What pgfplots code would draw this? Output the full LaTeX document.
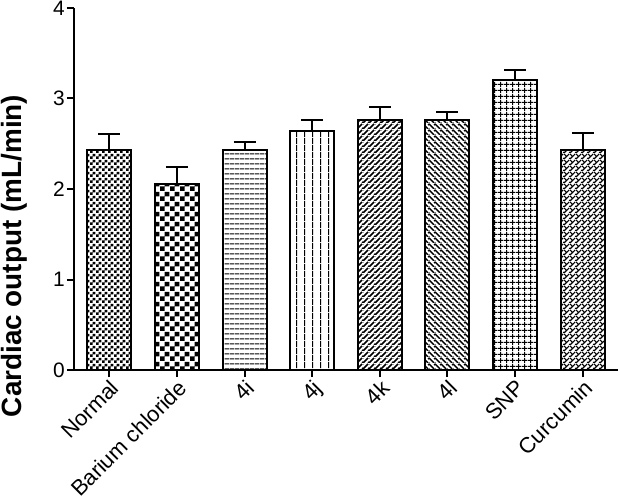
\documentclass[border=0pt]{standalone}
\usepackage{pgfplots}
\pgfplotsset{compat=1.18}
\usepackage{fontspec}
\setmainfont{Liberation Sans}
\usetikzlibrary{patterns}

% fine checker (Normal)
\pgfdeclarepatternformonly{finechecker}{\pgfqpoint{0pt}{0pt}}{\pgfqpoint{6bp}{6bp}}{\pgfqpoint{6bp}{6bp}}{%
  \pgfpathrectangle{\pgfqpoint{0pt}{0pt}}{\pgfqpoint{3bp}{3bp}}%
  \pgfpathrectangle{\pgfqpoint{3bp}{3bp}}{\pgfqpoint{3bp}{3bp}}%
  \pgfusepath{fill}}
% coarse checker (Barium chloride)
\pgfdeclarepatternformonly{checker}{\pgfqpoint{0pt}{0pt}}{\pgfqpoint{10bp}{10bp}}{\pgfqpoint{10bp}{10bp}}{%
  \pgfpathrectangle{\pgfqpoint{0pt}{0pt}}{\pgfqpoint{5bp}{5bp}}%
  \pgfpathrectangle{\pgfqpoint{5bp}{5bp}}{\pgfqpoint{5bp}{5bp}}%
  \pgfusepath{fill}}
% horizontal lines (4i)
\pgfdeclarepatternformonly{hlines}{\pgfqpoint{0pt}{0pt}}{\pgfqpoint{5bp}{5bp}}{\pgfqpoint{5bp}{5bp}}{%
  \pgfsetlinewidth{1.1bp}%
  \pgfpathmoveto{\pgfqpoint{0pt}{2.5bp}}\pgfpathlineto{\pgfqpoint{5bp}{2.5bp}}%
  \pgfusepath{stroke}}
% vertical lines (4j)
\pgfdeclarepatternformonly{vlines}{\pgfqpoint{0pt}{0pt}}{\pgfqpoint{7.5bp}{7bp}}{\pgfqpoint{7.5bp}{7bp}}{%
  \pgfsetlinewidth{1.1bp}%
  \pgfpathmoveto{\pgfqpoint{3.75bp}{0pt}}\pgfpathlineto{\pgfqpoint{3.75bp}{7bp}}%
  \pgfusepath{stroke}}
% NE lines (4k)
\pgfdeclarepatternformonly{nelines}{\pgfqpoint{0pt}{0pt}}{\pgfqpoint{5.5bp}{5.5bp}}{\pgfqpoint{5.5bp}{5.5bp}}{%
  \pgfsetlinewidth{1.6bp}%
  \pgfpathmoveto{\pgfqpoint{0pt}{0pt}}\pgfpathlineto{\pgfqpoint{5.5bp}{5.5bp}}%
  \pgfpathmoveto{\pgfqpoint{5.5bp}{0pt}}\pgfpathlineto{\pgfqpoint{11bp}{5.5bp}}%
  \pgfpathmoveto{\pgfqpoint{-5.5bp}{0pt}}\pgfpathlineto{\pgfqpoint{0bp}{5.5bp}}%
  \pgfusepath{stroke}}
% NW lines (4l)
\pgfdeclarepatternformonly{nwlines}{\pgfqpoint{0pt}{0pt}}{\pgfqpoint{5.5bp}{5.5bp}}{\pgfqpoint{5.5bp}{5.5bp}}{%
  \pgfsetlinewidth{1.6bp}%
  \pgfpathmoveto{\pgfqpoint{0pt}{5.5bp}}\pgfpathlineto{\pgfqpoint{5.5bp}{0pt}}%
  \pgfpathmoveto{\pgfqpoint{5.5bp}{5.5bp}}\pgfpathlineto{\pgfqpoint{11bp}{0pt}}%
  \pgfpathmoveto{\pgfqpoint{-5.5bp}{5.5bp}}\pgfpathlineto{\pgfqpoint{0bp}{0pt}}%
  \pgfusepath{stroke}}
% grid (SNP)
\pgfdeclarepatternformonly{sgrid}{\pgfqpoint{0pt}{0pt}}{\pgfqpoint{6bp}{6bp}}{\pgfqpoint{6bp}{6bp}}{%
  \pgfsetlinewidth{1.2bp}%
  \pgfpathmoveto{\pgfqpoint{3bp}{0pt}}\pgfpathlineto{\pgfqpoint{3bp}{6bp}}%
  \pgfpathmoveto{\pgfqpoint{0pt}{3bp}}\pgfpathlineto{\pgfqpoint{6bp}{3bp}}%
  \pgfusepath{stroke}}
% crosshatch bricks (Curcumin)
\pgfdeclarepatternformonly{xhatch}{\pgfqpoint{0pt}{0pt}}{\pgfqpoint{6bp}{6bp}}{\pgfqpoint{6bp}{6bp}}{%
  \pgfsetlinewidth{1.3bp}%
  \pgfpathmoveto{\pgfqpoint{0pt}{0pt}}\pgfpathlineto{\pgfqpoint{6bp}{6bp}}%
  \pgfpathmoveto{\pgfqpoint{6bp}{0pt}}\pgfpathlineto{\pgfqpoint{12bp}{6bp}}%
  \pgfpathmoveto{\pgfqpoint{-6bp}{0pt}}\pgfpathlineto{\pgfqpoint{0bp}{6bp}}%
  \pgfpathmoveto{\pgfqpoint{0pt}{6bp}}\pgfpathlineto{\pgfqpoint{3bp}{3bp}}%
  \pgfusepath{stroke}}

\begin{document}
\begin{tikzpicture}
\begin{axis}[
  scale only axis,
  width=544bp, height=362bp,
  xmin=-0.52, xmax=7.52,
  ymin=0, ymax=4,
  axis lines*=left,
  axis line style={line width=2bp, black},
  tick style={line width=2bp, black},
  major tick length=7bp,
  tick align=outside,
  xtick={0,1,2,3,4,5,6,7},
  xticklabels={Normal, Barium chloride, 4i, 4j, 4k, 4l, SNP, Curcumin},
  ytick={0,1,2,3,4},
  xticklabel style={rotate=45, anchor=north east, font=\fontsize{22}{25}\selectfont, inner sep=1bp},
  yticklabel style={font=\fontsize{21}{24}\selectfont, inner sep=2bp},
  /pgf/number format/assume math mode=true,
  ylabel={Cardiac output (mL/min)},
  ylabel style={font=\bfseries\fontsize{28}{32}\selectfont, at={(axis description cs:0,0.315)}, anchor=center, yshift=60bp},
  ybar, bar width=44bp, bar shift=0pt,
  every axis plot/.append style={draw=black, line width=2bp},
  error bars/error bar style={line width=2bp, black},
  error bars/error mark options={rotate=90, mark size=11bp, line width=2bp, black},
  clip=false,
]
\addplot[pattern=finechecker, error bars/.cd, y dir=plus, y explicit] coordinates {(0,2.43) +- (0,0.18)};
\addplot[pattern=checker, error bars/.cd, y dir=plus, y explicit] coordinates {(1,2.06) +- (0,0.18)};
\addplot[pattern=hlines, error bars/.cd, y dir=plus, y explicit] coordinates {(2,2.43) +- (0,0.09)};
\addplot[pattern=vlines, error bars/.cd, y dir=plus, y explicit] coordinates {(3,2.64) +- (0,0.12)};
\addplot[pattern=nelines, error bars/.cd, y dir=plus, y explicit] coordinates {(4,2.76) +- (0,0.15)};
\addplot[pattern=nwlines, error bars/.cd, y dir=plus, y explicit] coordinates {(5,2.76) +- (0,0.09)};
\addplot[pattern=sgrid, error bars/.cd, y dir=plus, y explicit] coordinates {(6,3.20) +- (0,0.11)};
\addplot[pattern=xhatch, error bars/.cd, y dir=plus, y explicit] coordinates {(7,2.43) +- (0,0.19)};
\end{axis}
\pgfresetboundingbox
\path (current axis.south west) ++(-74bp,-131bp) rectangle ++(620bp,501bp);
\end{tikzpicture}
\end{document}
